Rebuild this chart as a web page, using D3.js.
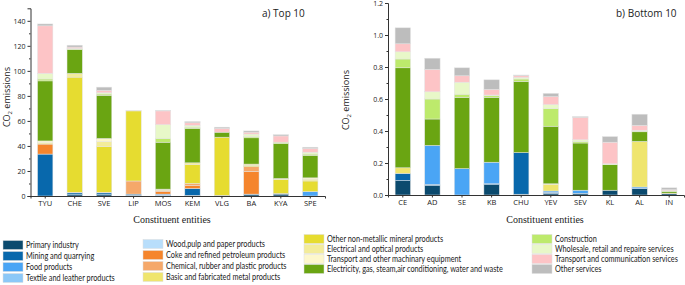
<!DOCTYPE html>
<html><head><meta charset="utf-8">
<script src="https://cdn.jsdelivr.net/npm/d3@7"></script>
<style>body{margin:0;background:#fff}svg{display:block}</style>
</head><body><svg id="c" width="685" height="285"></svg>
<script>
const seriesNames = ["Primary industry","Mining and quarrying","Food products","Textile and leather products",
 "Wood,pulp and paper products","Coke and refined petroleum products","Chemical, rubber and plastic products","Basic and fabricated metal products",
 "Other non-metallic mineral products","Electrical and optical products","Transport and other machinary equipment","Electricity, gas, steam,air conditioning, water and waste",
 "Construction","Wholesale, retail and repaire services","Transport and communication services","Other services"];
const seriesColors = ["#0b4a6e","#0868ac","#4aa5f5","#8cc8f7","#b8defb","#f5852c","#f5a86a","#efe56e",
 "#e6dc30","#f3ec9a","#fdf7cc","#6aa512","#bdea6c","#e8f8c8","#fdc4c6","#bdbdbd"];

const topCategories = ["TYU","CHE","SVE","LIP","MOS","KEM","VLG","BA","KYA","SPE"];
const topValues = [
 [0,33.5,0,0,0,8,0,0,0,1,1.5,48,1.5,4.5,38,1.5],
 [1,1.5,0,0,0,0.5,0,0,92,3,0,19,0.5,0.5,1,1.5],
 [1,1.5,0,0,0,0.5,0,0,36.5,4,2.5,34.5,1,1,2,2.5],
 [0.5,1,0,0,0,0,10.5,0,56,0,0.5,0,0,0,0,0],
 [0.5,0,1,0,0,2,1,0.5,0,0.5,0,37.5,3,11,11,0.5],
 [0.5,5.5,0,0,0,2.5,1.5,0,15,1.5,0,27.5,1,1.5,2,1],
 [0.5,0,0,0,0,0,0,0,46.5,0,0,4,0,0,3,1],
 [1,0.5,0,0,0,18,4,0,1,1,0,21,1,2,1.5,1],
 [1.5,0.5,0,0,0,0,0,0,11,1,0,28,1,0,5,1],
 [0,0,3.5,0,0,0,0,0,8.5,1.5,1,18,1,1.5,3,1]
];
const topTicks = [0,20,40,60,80,100,120,140];

const bottomCategories = ["CE","AD","SE","KB","CHU","YEV","SEV","KL","AL","IN"];
const bottomValues = [
 [0.09,0.045,0,0,0,0,0,0.035,0,0,0,0.625,0.055,0.045,0.05,0.10],
 [0.06,0.005,0.245,0,0,0,0,0,0,0,0,0.165,0.125,0.045,0.14,0.07],
 [0,0,0.165,0,0,0,0,0,0,0,0,0.445,0.02,0.075,0.04,0.05],
 [0.065,0.005,0.135,0,0,0,0,0,0,0,0,0.405,0.01,0.005,0.035,0.06],
 [0.005,0.26,0,0,0,0,0,0,0,0,0,0.445,0.015,0.01,0.01,0.005],
 [0.01,0.005,0.01,0,0,0,0,0.04,0,0.005,0,0.36,0.11,0.025,0.05,0.02],
 [0.01,0,0.02,0,0,0,0,0,0,0,0,0.295,0.01,0.01,0.14,0.005],
 [0.03,0,0,0,0,0,0,0,0,0,0,0.16,0,0.005,0.135,0.035],
 [0.04,0,0.01,0,0,0,0,0.285,0,0,0,0.06,0.005,0.005,0.03,0.07],
 [0.008,0,0,0,0,0,0,0.004,0,0,0,0.01,0.003,0.003,0.005,0.012]
];
const bottomTicks = [0,0.2,0.4,0.6,0.8,1.0,1.2];

const svg = d3.select("#c");
const sans = "'Open Sans', 'DejaVu Sans', sans-serif";

function panel(cfg){
  const g = svg.append("g");
  const x = d3.scaleBand().domain(cfg.cats).range([cfg.x0, cfg.x1]).paddingInner(0.48).paddingOuter(0.24);
  const y = d3.scaleLinear().domain([0, cfg.ymax]).range([cfg.y0, cfg.y1]);
  const rows = cfg.cats.map((c,i)=>{const o={cat:c}; seriesNames.forEach((s,j)=>o[s]=cfg.vals[i][j]); return o;});
  const stacked = d3.stack().keys(seriesNames)(rows);
  g.selectAll("g.s").data(stacked).join("g").attr("fill",(d,i)=>seriesColors[i])
    .selectAll("rect").data(d=>d).join("rect")
    .attr("x",d=>x(d.data.cat)).attr("width",x.bandwidth())
    .attr("y",d=>y(d[1])).attr("height",d=>Math.max(0,y(d[0])-y(d[1])))
    .attr("stroke","#e4e4e4").attr("stroke-width",0.5);
  const ya = d3.axisLeft(y).tickValues(cfg.ticks).tickSize(3).tickPadding(2).tickFormat(cfg.fmt);
  const yg = g.append("g").attr("transform",`translate(${cfg.x0},0)`).call(ya);
  const minor = d3.axisLeft(y).tickValues(cfg.minor).tickSize(1.5).tickFormat("");
  g.append("g").attr("transform",`translate(${cfg.x0},0)`).call(minor).select(".domain").remove();
  const xa = d3.axisBottom(x).tickSize(2.5).tickPadding(2.5);
  const xg = g.append("g").attr("transform",`translate(0,${cfg.y0})`).call(xa);
  g.selectAll(".domain").attr("stroke","#333");
  g.selectAll(".tick line").attr("stroke","#333");
  g.selectAll(".tick text").attr("font-family",sans).attr("fill","#222");
  yg.selectAll(".tick text").attr("font-size",7);
  xg.selectAll(".tick text").attr("font-size",7.5);
  const lab = g.append("text").attr("transform",`translate(${cfg.labx},${cfg.laby}) rotate(-90)`)
    .attr("text-anchor","middle").attr("font-family",sans).attr("font-size",9).attr("fill","#222");
  lab.append("tspan").text("CO");
  lab.append("tspan").attr("font-size",6).attr("dy",2).text("2");
  lab.append("tspan").attr("dy",-2).text(" emissions");
  g.append("text").attr("x",cfg.tx).attr("y",cfg.ty).attr("font-family",sans).attr("font-size",10)
    .attr("fill","#222").text(cfg.title);
  g.append("text").attr("x",cfg.cx).attr("y",223).attr("text-anchor","middle")
    .attr("font-family","'Liberation Serif','Times New Roman',serif").attr("font-size",10).attr("fill","#222")
    .text("Constituent entities");
}

panel({cats:topCategories, vals:topValues, x0:30.5, x1:325, y0:196, y1:8.3, ymax:150, ticks:topTicks,
  minor:d3.range(10,150,20), fmt:d3.format("d"), labx:10, laby:97, tx:262, ty:17, title:"a) Top 10", cx:172});
panel({cats:bottomCategories, vals:bottomValues, x0:388, x1:684, y0:195, y1:3, ymax:1.2, ticks:bottomTicks,
  minor:d3.range(0.1,1.2,0.2), fmt:d3.format(".1f"), labx:349, laby:100, tx:616, ty:17, title:"b) Bottom 10", cx:545});

// legend
const legCols = [
  {x:3, y:245, dy:11, items:[0,1,2,3]},
  {x:143, y:244, dy:11, items:[4,5,6,7]},
  {x:304, y:239, dy:10, items:[8,9,10,11]},
  {x:532, y:239, dy:10, items:[12,13,14,15]}
];
const lg = svg.append("g");
const legFont = "Lato, 'Open Sans', sans-serif";
// measure the longest label to get the narrow-face compression factor
const probe = lg.append("text").attr("font-family",legFont).attr("font-size",8.6).text(seriesNames[11]);
const ratio = Math.min(1, 176/probe.node().getComputedTextLength());
probe.remove();
legCols.forEach(col=>{
  col.items.forEach((k,i)=>{
    const yy = col.y + i*col.dy;
    lg.append("rect").attr("x",col.x).attr("y",yy-4.5).attr("width",20).attr("height",9)
      .attr("fill",seriesColors[k]).attr("stroke","#ddd").attr("stroke-width",0.5);
    lg.append("text").attr("transform",`translate(${col.x+23},${yy+3}) scale(${ratio},1)`)
      .attr("font-family",legFont).attr("font-size",8.6).attr("fill","#1a1a1a").text(seriesNames[k]);
  });
});
</script></body></html>
